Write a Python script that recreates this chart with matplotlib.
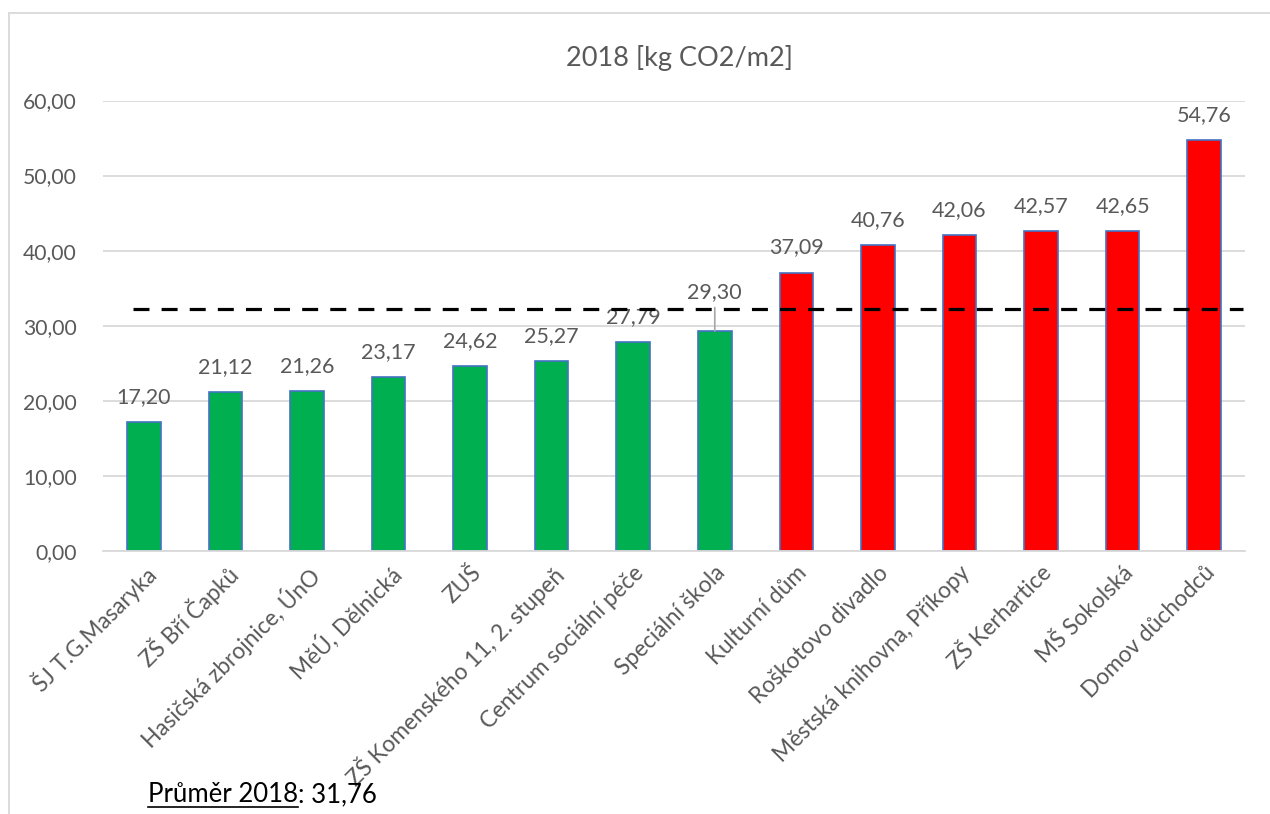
import matplotlib
matplotlib.use("Agg")
import matplotlib.pyplot as plt
from matplotlib.lines import Line2D


BUILDINGS = [
    "ŠJ T.G.Masaryka",
    "ZŠ Bří Čapků",
    "Hasičská zbrojnice, ÚnO",
    "MěÚ, Dělnická",
    "ZUŠ",
    "ZŠ Komenského 11, 2. stupeň",
    "Centrum sociální péče",
    "Speciální škola",
    "Kulturní dům",
    "Roškotovo divadlo",
    "Městská knihovna, Příkopy",
    "ZŠ Kerhartice",
    "MŠ Sokolská",
    "Domov důchodců",
]
VALUES = [17.20, 21.12, 21.26, 23.17, 24.62, 25.27, 27.79, 29.30,
          37.09, 40.76, 42.06, 42.57, 42.65, 54.76]
AVG_LINE = 32.2          # where the dashed line sits in the picture
AVG_TEXT = "31,76"
Y_TICKS = [0, 10, 20, 30, 40, 50, 60]

GREEN = "#00B050"
RED = "#FF0000"
EDGE = "#4472C4"
GRAY_TEXT = "#595959"
GRID = "#D9D9D9"

FONT = ["Lato", "DejaVu Sans"]
plt.rcParams["font.family"] = FONT


def fmt(v):
    return f"{v:.2f}".replace(".", ",")


def main():
    fig = plt.figure(figsize=(12.7, 8.14), dpi=100)
    W, H = 1270, 814
    ax = fig.add_axes([103 / W, (H - 551) / H, (1245 - 103) / W, 450.5 / H])

    x = range(len(VALUES))
    colors = [GREEN if v < AVG_LINE else RED for v in VALUES]
    ax.bar(x, VALUES, width=0.41, color=colors, edgecolor=EDGE,
           linewidth=1.2, zorder=2)

    ax.set_xlim(-0.5, len(VALUES) - 0.5)
    ax.set_ylim(0, 60)
    ax.set_yticks(Y_TICKS)
    ax.set_yticklabels([fmt(t) for t in Y_TICKS])
    ax.yaxis.grid(True, color=GRID, linewidth=1.3, zorder=0)
    ax.set_axisbelow(True)
    for side in ["top", "right", "left"]:
        ax.spines[side].set_visible(False)
    ax.spines["bottom"].set_color(GRID)
    ax.spines["bottom"].set_linewidth(1.3)
    ax.tick_params(axis="y", length=0, labelsize=15.2, colors=GRAY_TEXT,
                   pad=19)

    ax.set_xticks(list(x))
    ax.set_xticklabels(BUILDINGS, rotation=45, ha="right",
                       rotation_mode="anchor")
    ax.tick_params(axis="x", length=0, labelsize=16.3, colors=GRAY_TEXT,
                   pad=8)

    # data labels
    for i, v in enumerate(VALUES):
        if i == 7:
            ax.annotate(fmt(v), xy=(i, v), xytext=(0, 39),
                        textcoords="offset pixels", ha="center", va="center",
                        fontsize=15.5, color=GRAY_TEXT,
                        arrowprops=dict(arrowstyle="-", color="#A6A6A6",
                                        lw=1.2, shrinkA=2, shrinkB=0))
        else:
            ax.annotate(fmt(v), xy=(i, v), xytext=(0, 25),
                        textcoords="offset pixels", ha="center", va="center",
                        fontsize=15.5, color=GRAY_TEXT)

    # average line
    ax.hlines(AVG_LINE, -0.13, len(VALUES) - 0.52, colors="black",
              linewidth=2.3, linestyles=(0, (5.0, 3.8)), zorder=3)

    # title
    fig.text(679 / W, 1 - 58 / H, "2018 [kg CO2/m2]", ha="center",
             va="center", fontsize=19.5, color=GRAY_TEXT)

    # chart border
    fig.add_artist(Line2D([8.5 / W, 8.5 / W], [0, 1 - 12.5 / H],
                          transform=fig.transFigure, color=GRID, lw=1.3))
    fig.add_artist(Line2D([8.5 / W, 1], [1 - 12.5 / H, 1 - 12.5 / H],
                          transform=fig.transFigure, color=GRID, lw=1.3))

    # footnote with underlined part
    t1 = fig.text(148 / W, 1 - 795 / H, "Průměr 2018", ha="left",
                  va="center", fontsize=18.5, color="black")
    fig.canvas.draw()
    bb = t1.get_window_extent()
    fig.text(bb.x1 / W, 1 - 795 / H, ": " + AVG_TEXT, ha="left",
             va="center", fontsize=18.5, color="black")
    uy = (bb.y0 + 1) / H
    fig.add_artist(Line2D([bb.x0 / W, bb.x1 / W], [uy, uy],
                          transform=fig.transFigure, color="black", lw=1.2))

    fig.savefig("out.png", dpi=100)
    plt.close(fig)


if __name__ == "__main__":
    main()
